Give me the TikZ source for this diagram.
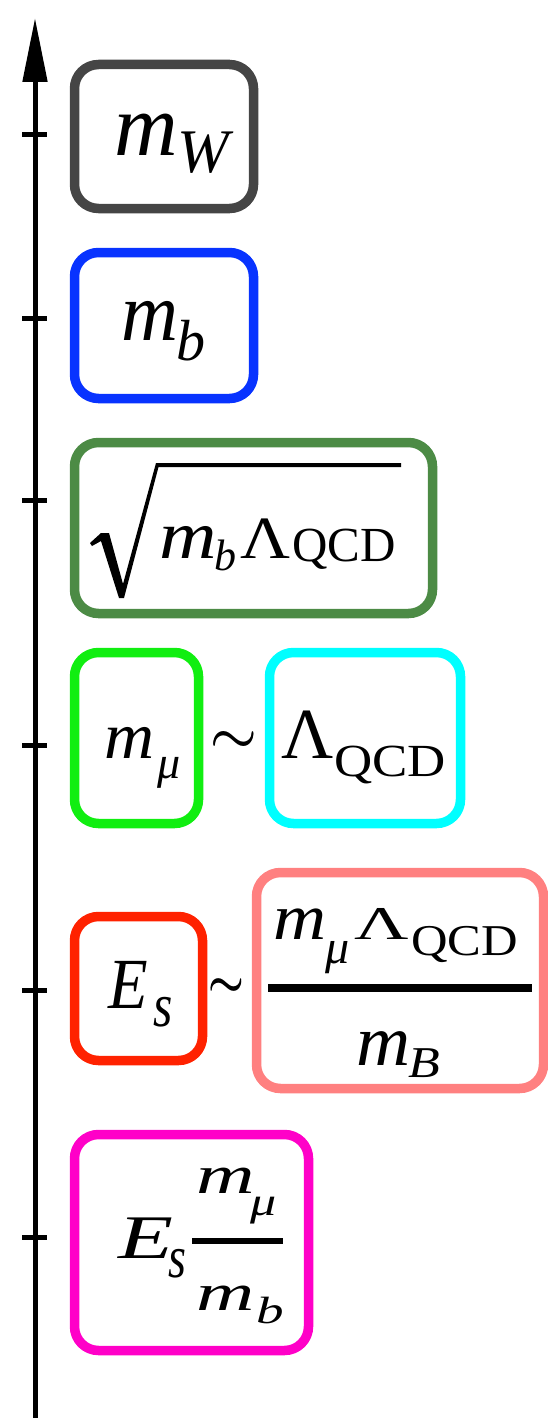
\RequirePackage{fix-cm}
\documentclass[tikz,border=0pt]{standalone}
\usepackage{amsmath}
\usepackage{graphicx}
\usepackage{fontspec}
\setmainfont{Liberation Serif}
\usetikzlibrary{arrows.meta}
\definecolor{cW}{RGB}{69,69,69}
\definecolor{cb}{RGB}{8,51,255}
\definecolor{csq}{RGB}{76,139,69}
\definecolor{cmu}{RGB}{17,238,17}
\definecolor{cqcd}{RGB}{0,255,255}
\definecolor{cEs}{RGB}{255,34,0}
\definecolor{cfr}{RGB}{255,128,128}
\definecolor{cmag}{RGB}{255,0,200}
\newcommand\fs[1]{\fontsize{#1}{#1}\selectfont}
% \gl{xscale}{yscale}{size}{text}
\newcommand\gl[4]{\scalebox{#1}[#2]{\fs{#3}#4}}
\newcommand\thicksim{\rlap{$\sim$}\raisebox{1.5pt}{$\sim$}}
\tikzset{
  box/.style={draw, line width=9.5pt, rounded corners=24pt, inner sep=0pt},
  axisline/.style={line width=5pt, -{Triangle[length=64pt,width=24pt]}},
  tickline/.style={line width=5pt},
  glyph/.style={inner sep=0pt, outer sep=0pt, anchor=base west},
  barline/.style={line width=8pt},
  tildenode/.style={inner sep=0pt}
}
\begin{document}
\begin{tikzpicture}[x=1pt,y=-1pt]
\useasboundingbox (0,0) rectangle (548,1418);
% axis
\coordinate (axbot) at (35,1418);
\coordinate (axtop) at (35,18);
\draw[axisline] (axbot) -- (axtop);
\foreach \ty/\nm in {135/ta,318/tb,500/tc,745/td,990/te,1237/tf}{
  \coordinate (\nm l) at (22,\ty);
  \coordinate (\nm r) at (47,\ty);
  \draw[tickline] (\nm l) -- (\nm r);
}
% ---- m_W
\node[box, draw=cW, minimum width=179pt, minimum height=144pt] (mw) at (164,136.5) {};
\node[glyph] (mwm) at (114,155) {\gl{1}{1}{88}{\textit{m}}};
\node[glyph] (mwW) at (177,172) {\gl{1}{1}{62}{\textit{W}}};
% ---- m_b
\node[box, draw=cb, minimum width=179pt, minimum height=146pt] (mb) at (164,325.5) {};
\node[glyph] (mbm) at (121,340) {\gl{0.95}{1}{83}{\textit{m}}};
\node[glyph] (mbb) at (176,360) {\gl{1}{1}{58}{\textit{b}}};
% ---- sqrt(m_b Lambda_QCD)
\node[box, draw=csq, minimum width=358pt, minimum height=171pt] (sq) at (253.5,528) {};
\fill (90,543) -- (101,533) -- (109,533) -- (123,584) -- (156,463) -- (401,463)
  -- (401,467) -- (158.5,467) -- (124,598) -- (119,598) -- (101,541) -- (92,546) -- cycle;
\node[glyph] (sqm) at (159,558) {\gl{1.17}{1}{68}{\textit{m}}};
\node[glyph] (sqb) at (214,570) {\gl{1}{1}{44}{\textit{b}}};
\node[glyph] (sqL) at (240,558) {\gl{1.15}{1}{60}{Λ}};
\node[glyph] (sqQ) at (292,561) {\gl{1}{1}{49}{QCD}};
% ---- m_mu ~ Lambda_QCD
\node[box, draw=cmu, minimum width=124pt, minimum height=171pt] (mmu) at (136.5,738) {};
\node[glyph] (mum) at (104,758) {\gl{1.05}{1}{66}{\textit{m}}};
\node[glyph] (muu) at (157,778) {\gl{1}{1}{46}{\textit{μ}}};
\node[tildenode] (tla) at (234,743) {\fs{60}\thicksim};
\node[box, draw=cqcd, minimum width=191pt, minimum height=171pt] (qcd) at (365,738) {};
\node[glyph] (qL) at (281,758) {\gl{1}{1}{72}{Λ}};
\node[glyph] (qQ) at (334,776) {\gl{1.15}{1}{46}{QCD}};
% ---- E_s ~ frac
\node[box, draw=cEs, minimum width=128pt, minimum height=144pt] (es) at (138.5,988.5) {};
\node[glyph] (esE) at (108,1008) {\gl{0.9}{1}{72}{\textit{E}}};
\node[glyph] (ess) at (153,1026) {\gl{0.8}{1}{62}{\textit{s}}};
\node[tildenode] (tlb) at (226,988) {\fs{46}\thicksim};
\node[box, draw=cfr, minimum width=287pt, minimum height=216pt] (fr) at (400,980.5) {};
\node[glyph] (frm) at (273,939) {\gl{1.13}{1}{65}{\textit{m}}};
\node[glyph] (fru) at (325,963) {\gl{1}{1}{48}{\textit{μ}}};
\node[glyph] (frL) at (354,939) {\gl{1.6}{1}{47}{Λ}};
\node[glyph] (frQ) at (411,955) {\gl{1.15}{1}{44}{QCD}};
\coordinate (frbl) at (268,988);
\coordinate (frbr) at (532,988);
\draw[barline] (frbl) -- (frbr);
\node[glyph] (frdm) at (356,1065) {\gl{1.04}{1}{72}{\textit{m}}};
\node[glyph] (frdB) at (408,1077) {\gl{1.18}{1}{44}{\textit{B}}};
% ---- E_s m_mu / m_b
\node[box, draw=cmag, minimum width=234pt, minimum height=216pt] (mag) at (191.5,1242.5) {};
\node[glyph] (mgE) at (118,1258) {\gl{1.45}{1}{62}{\textit{E}}};
\node[glyph] (mgs) at (168,1277) {\gl{1}{1.3}{46}{\textit{s}}};
\coordinate (mgbl) at (192,1241);
\coordinate (mgbr) at (283,1241);
\draw[barline, line width=6pt] (mgbl) -- (mgbr);
\node[glyph] (mgnm) at (196,1193) {\gl{1.5}{1}{54}{\textit{m}}};
\node[glyph] (mgnu) at (250,1215) {\gl{1.3}{1}{40}{\textit{μ}}};
\node[glyph] (mgdm) at (196,1310) {\gl{1.55}{1}{52}{\textit{m}}};
\node[glyph] (mgdb) at (256,1323) {\gl{1.45}{1}{38}{\textit{b}}};
\end{tikzpicture}
\end{document}
